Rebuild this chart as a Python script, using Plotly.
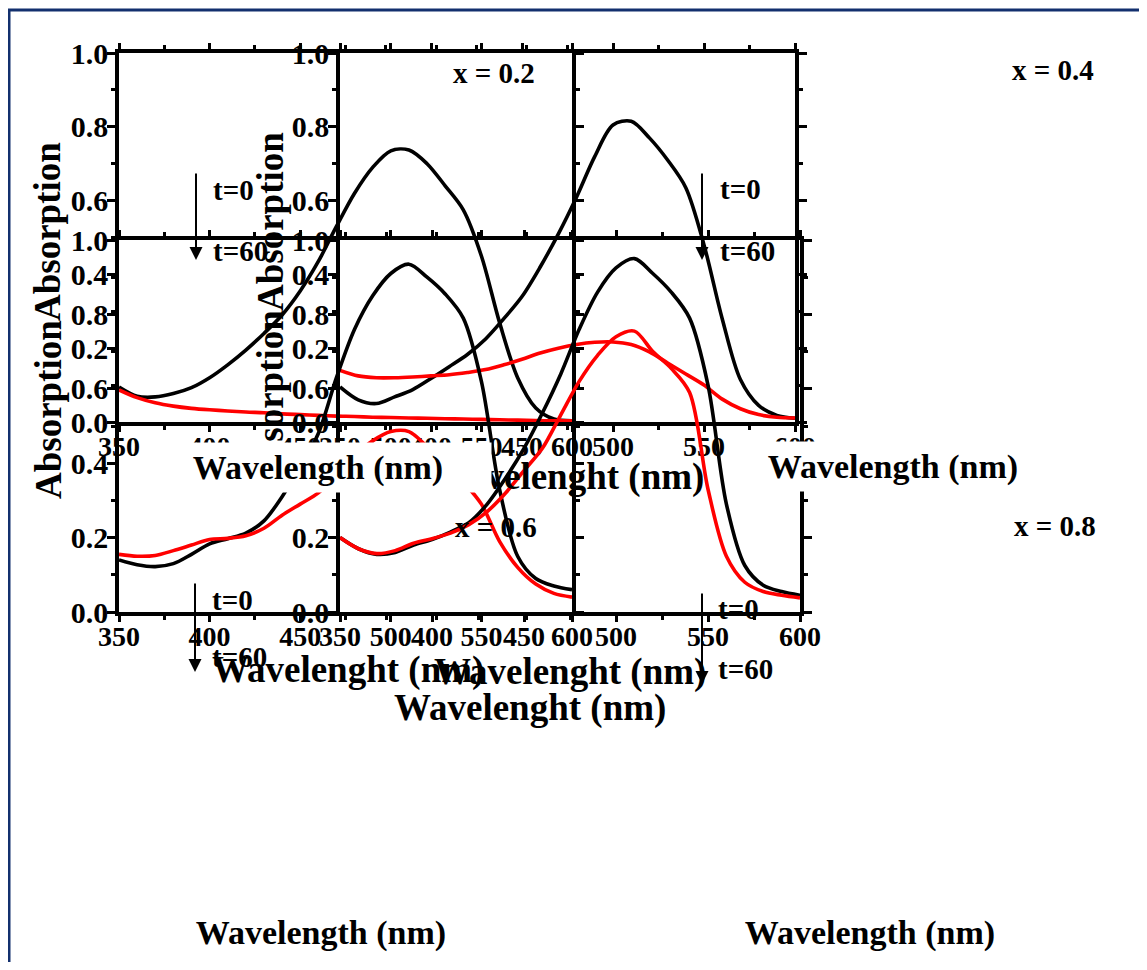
import plotly.graph_objects as go

# ---------------- data ----------------
wavelength = list(range(350, 601, 10))

x02_t0 = [0.095, 0.070, 0.068, 0.077, 0.093, 0.120, 0.155, 0.195, 0.240, 0.290, 0.355, 0.435, 0.530,
          0.620, 0.690, 0.735, 0.737, 0.700, 0.640, 0.575, 0.450, 0.270, 0.120, 0.038, 0.008, 0.003]
x02_t60 = [0.087, 0.066, 0.052, 0.043, 0.037, 0.033, 0.030, 0.027, 0.025, 0.022, 0.020, 0.018, 0.016,
           0.015, 0.013, 0.012, 0.011, 0.010, 0.009, 0.008, 0.007, 0.006, 0.005, 0.004, 0.003, 0.003]

x04_t0 = [0.095, 0.060, 0.050, 0.068, 0.088, 0.118, 0.150, 0.183, 0.225, 0.280, 0.340, 0.420, 0.510,
          0.610, 0.720, 0.805, 0.815, 0.770, 0.710, 0.635, 0.480, 0.280, 0.115, 0.045, 0.018, 0.010]
x04_t60 = [0.140, 0.125, 0.120, 0.120, 0.122, 0.125, 0.128, 0.134, 0.142, 0.155, 0.170, 0.187, 0.200,
           0.210, 0.216, 0.217, 0.210, 0.190, 0.160, 0.130, 0.100, 0.062, 0.036, 0.020, 0.013, 0.011]

x06_t0 = [0.140, 0.127, 0.122, 0.130, 0.155, 0.183, 0.197, 0.212, 0.245, 0.310, 0.390, 0.480, 0.630,
          0.760, 0.850, 0.910, 0.935, 0.900, 0.855, 0.790, 0.620, 0.330, 0.150, 0.090, 0.070, 0.060]
x06_t60 = [0.155, 0.150, 0.152, 0.165, 0.180, 0.195, 0.198, 0.205, 0.225, 0.260, 0.290, 0.320, 0.370,
           0.420, 0.460, 0.485, 0.485, 0.445, 0.400, 0.350, 0.290, 0.190, 0.120, 0.075, 0.050, 0.040]

x08_t0 = [0.200, 0.170, 0.155, 0.160, 0.180, 0.195, 0.215, 0.240, 0.290, 0.360, 0.440, 0.535, 0.640,
          0.760, 0.860, 0.925, 0.950, 0.910, 0.860, 0.790, 0.610, 0.290, 0.125, 0.072, 0.055, 0.045]
x08_t60 = [0.200, 0.170, 0.157, 0.165, 0.185, 0.197, 0.212, 0.235, 0.270, 0.320, 0.380, 0.440, 0.530,
           0.620, 0.690, 0.740, 0.755, 0.700, 0.655, 0.590, 0.330, 0.150, 0.080, 0.055, 0.045, 0.038]

panel_labels = ["x = 0.2", "x = 0.4", "x = 0.6", "x = 0.8"]
x_ticks = [350, 400, 450, 500, 550, 600]
y_ticks = [0.0, 0.2, 0.4, 0.6, 0.8, 1.0]
x_title_small = "Wavelength (nm)"
x_title_big = "Wavelenght (nm)"
y_title = "Absorption"
t_start, t_end = "t=0", "t=60"

# ---------------- layout helpers ----------------
OX, OY, W, H = 8, 8, 1131, 954   # figure sits inside the page body margin


def fx(p):
    return (p - OX) / W


def fy(p):
    return 1 - (p - OY) / H


FONT = "Liberation Serif, Times New Roman, serif"
BLACK = "#000000"
RED = "#ff0000"

# pixel boxes of the four overlapping panels: left, right, top, bottom
boxes = [(119, 572, 53, 422), (340, 795, 53, 422), (119, 572, 240, 612), (340, 800, 240, 612)]
series = [(x02_t0, x02_t60), (x04_t0, x04_t60), (x06_t0, x06_t60), (x08_t0, x08_t60)]

fig = go.Figure()
layout = {}
for i, ((l, r, t, b), (s0, s60)) in enumerate(zip(boxes, series)):
    sfx = "" if i == 0 else str(i + 1)
    for ys, col in ((s0, BLACK), (s60, RED)):
        fig.add_trace(go.Scatter(x=wavelength, y=ys, mode="lines",
                                 line=dict(color=col, width=3.6, shape="spline", smoothing=0.9),
                                 xaxis="x" + sfx, yaxis="y" + sfx, showlegend=False,
                                 hoverinfo="skip"))
    xfont = dict(family=FONT, size=28, color=BLACK, weight="bold")
    yfont = dict(family=FONT, size=30, color=BLACK, weight="bold")
    layout["xaxis" + sfx] = dict(domain=[fx(l), fx(r)], range=[350, 600], anchor="y" + sfx,
                                 tickmode="array", tickvals=x_ticks, ticks="outside", ticklen=6,
                                 tickwidth=2.5, tickcolor=BLACK, showline=True, linewidth=3.5,
                                 linecolor=BLACK, mirror="ticks", showgrid=False, zeroline=False,
                                 tickfont=xfont, automargin=False, fixedrange=True,
                                 ticklabelstandoff=-9,
                                 minor=dict(tick0=350, dtick=25, ticks="outside", ticklen=4,
                                            tickwidth=2.5, tickcolor=BLACK, showgrid=False))
    layout["yaxis" + sfx] = dict(domain=[fy(b), fy(t)], range=[0, 1.0], anchor="x" + sfx,
                                 tickmode="array", tickvals=y_ticks, tickformat=".1f",
                                 ticks="outside", ticklen=8, tickwidth=2.5, tickcolor=BLACK,
                                 showline=True, linewidth=3.5, linecolor=BLACK, mirror="ticks",
                                 showgrid=False, zeroline=False, tickfont=yfont,
                                 automargin=False, fixedrange=True, ticklabelstandoff=-7,
                                 minor=dict(tick0=0, dtick=0.1, ticks="outside", ticklen=4,
                                            tickwidth=2.5, tickcolor=BLACK, showgrid=False))

ann = []


def text(px_, py_, s, size, **kw):
    d = dict(x=fx(px_), y=fy(py_), xref="paper", yref="paper", text=s, showarrow=False,
             font=dict(family=FONT, size=size, color=BLACK, weight="bold"),
             xanchor="center", yanchor="middle")
    d.update(kw)
    ann.append(d)


# big stray axis titles
for (cx, cy) in [(348, 670), (570, 672), (530, 708), (568, 477)]:
    text(cx, cy, x_title_big, 37)

# y titles
for (cx, cy) in [(48, 232), (48, 410), (270, 222), (270, 400)]:
    text(cx, cy, y_title, 37, textangle=-90)

# panel labels
for (cx, cy), s in zip([(494, 73), (1053, 70), (496, 527), (1055, 526)], panel_labels):
    text(cx, cy, s, 29)

# arrows with t labels
arrows = [(196, 172, 260, 211, 190, 251), (702, 172, 260, 718, 189, 251),
          (195, 582, 672, 210, 600, 657), (702, 592, 684, 716, 609, 669)]
for (ax_, y0, y1, tx, ty0, ty1) in arrows:
    ann.append(dict(x=fx(ax_), y=fy(y1), xref="paper", yref="paper", text="", showarrow=True,
                    ax=0, ay=-(y1 - y0), arrowhead=2, arrowsize=1.3, arrowwidth=2,
                    arrowcolor=BLACK, standoff=0, startstandoff=0))
    text(tx, ty0, t_start, 29, xanchor="left")
    text(tx, ty1, t_end, 29, xanchor="left")

# white-boxed axis titles (drawn last, covering what is underneath)
for (cx, cy, w, h) in [(318, 467, 346, 49), (893, 466, 270, 49), (321, 933, 300, 46), (870, 933, 300, 46)]:
    text(cx, cy, x_title_small, 34, bgcolor="white", width=w, height=h, borderpad=0)

shapes = [
    dict(type="line", xref="paper", yref="paper", x0=fx(8), x1=fx(1147), y0=fy(10), y1=fy(10),
         line=dict(color="#13306e", width=3)),
    dict(type="line", xref="paper", yref="paper", x0=fx(9), x1=fx(9), y0=fy(10), y1=fy(975),
         line=dict(color="#13306e", width=3)),
]

fig.update_layout(width=W, height=H, margin=dict(l=0, r=0, t=0, b=0, pad=0),
                  paper_bgcolor="white", plot_bgcolor="rgba(0,0,0,0)", showlegend=False,
                  font=dict(family=FONT, color=BLACK, weight="bold"),
                  annotations=ann, shapes=shapes, hovermode=False, **layout)

fig.write_html("out.html")
